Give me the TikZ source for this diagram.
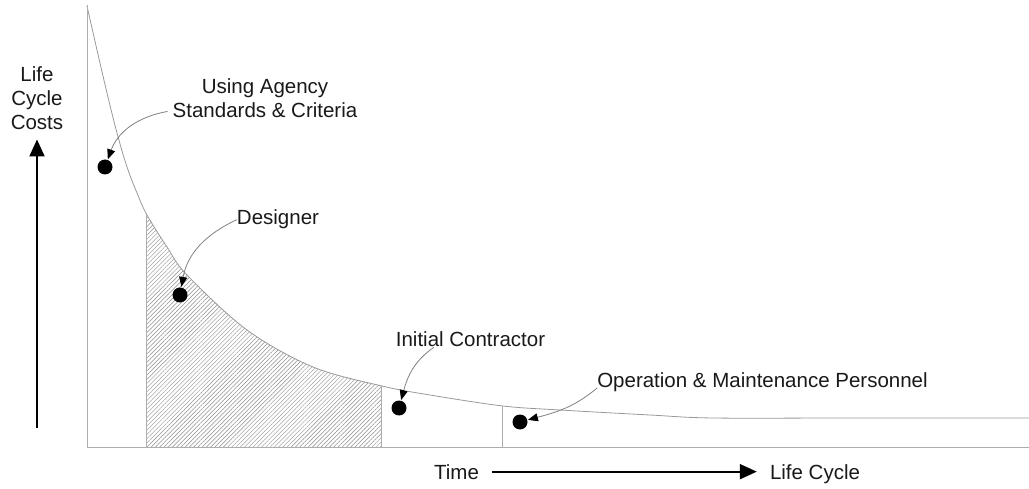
\documentclass[tikz,border=0pt]{standalone}
\usepackage{fontspec}
\setmainfont{Liberation Sans}
\usetikzlibrary{arrows.meta,patterns.meta,intersections,calc}
\begin{document}
\begin{tikzpicture}[x=1pt,y=1pt,
  lbl/.style={font=\fontsize{20.5}{24}\selectfont, inner sep=0pt, text=black!90},
  frame/.style={draw=black!32, line width=0.8pt},
  costcurve/.style={draw=black!40, line width=0.8pt},
  dot/.style={circle, fill=black, minimum size=15pt, inner sep=0pt},
  conn/.style={draw=black!50, line width=0.8pt, shorten >=0.5pt,
    -{Triangle[length=10pt,width=8pt,color=black]}},
  bigarrow/.style={draw=black, line width=2pt,
    -{Triangle[length=17pt,width=15pt]}}]
\useasboundingbox (0,0) rectangle (1029,488);

% axes frame
\coordinate (top) at (87,483);
\coordinate (origin) at (87,41);
\coordinate (right) at (1029,41);

% hatched area under the curve
\begin{scope}
  \clip (146,41) rectangle (381,488);
  \fill[pattern={Lines[angle=45,distance=3pt,line width=0.45pt]}, pattern color=black!45]
    plot[smooth,tension=0.55] coordinates {(87,482) (97,438) (107,395) (117,355) (127,321)
      (137,295) (147,273) (167,241) (187,213) (247,158) (313,121) (382,102) (430,93)
      (503,82) (560,78) (650,73) (713,70) (850,70) (1029,70)} -- (1029,41) -- (87,41) -- cycle;
\end{scope}

% life cycle cost curve
\draw[costcurve, name path=curve]
  plot[smooth,tension=0.55] coordinates {(87,482) (97,438) (107,395) (117,355) (127,321)
    (137,295) (147,273) (167,241) (187,213) (247,158) (313,121) (382,102) (430,93)
    (503,82) (560,78) (650,73) (713,70) (850,70) (1029,70)};

\draw[frame] (top) -- (origin) -- (right);

% phase boundaries
\path[name path=g1] (146,0) -- (146,488);
\path[name path=g2] (381,0) -- (381,488);
\path[name path=g3] (502,0) -- (502,488);
\path[name intersections={of=curve and g1, by=c1}];
\path[name intersections={of=curve and g2, by=c2}];
\path[name intersections={of=curve and g3, by=c3}];
\draw[frame] (c1) -- (c1 |- origin);
\draw[frame] (c2) -- (c2 |- origin);
\draw[frame] (c3) -- (c3 |- origin);

% participants
\node[dot] (d1) at (105,321) {};
\node[dot] (d2) at (180,193) {};
\node[dot] (d3) at (399,80) {};
\node[dot] (d4) at (520,66) {};

\node[lbl, align=center, anchor=north] (agency) at (265,410) {Using Agency\\Standards \& Criteria};
\node[lbl, anchor=base] (des) at (278,263) {Designer};
\node[lbl, anchor=base] (init) at (470.5,141) {Initial Contractor};
\node[lbl, anchor=base] (op) at (762.5,100) {Operation \& Maintenance Personnel};

\draw[conn] ($(agency.south west)+(-5,6)$) to[out=190,in=70] (d1);
\draw[conn] (des.west) to[out=205,in=80] (d2);
\draw[conn] ($(init.south west)+(38,0)$) to[out=215,in=75] (d3);
\draw[conn] (op.base west) to[out=220,in=15] (d4);

% axis captions
\node[lbl, align=center, anchor=north] (ylab) at (37,422) {Life\\Cycle\\Costs};
\coordinate (vb) at (37,60);
\draw[bigarrow, shorten >=10pt] (vb) -- (vb |- ylab.south);

\node[lbl, anchor=base] (time) at (456.5,9) {Time};
\node[lbl, anchor=base] (lc) at (815,9) {Life Cycle};
\draw[bigarrow, shorten <=13pt, shorten >=13pt] (time.east) -- (time.east -| lc.west);
\end{tikzpicture}
\end{document}
